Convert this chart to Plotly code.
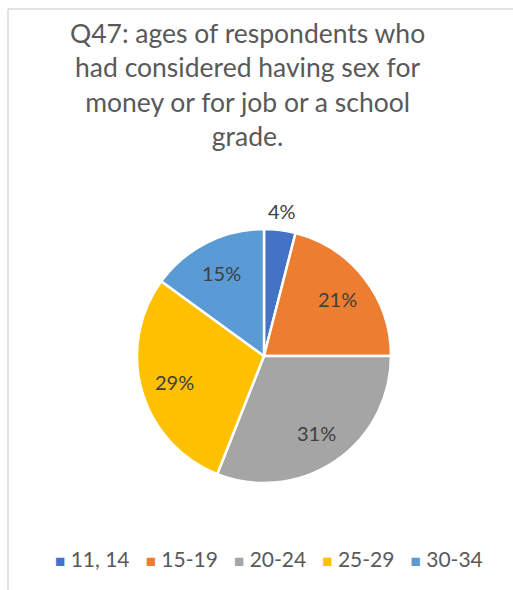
import math
import plotly.graph_objects as go

# Age groups and their shares (%)
age_groups = ["11, 14", "15-19", "20-24", "25-29", "30-34"]
shares = [4, 21, 31, 29, 15]
slice_colors = ["#4472C4", "#ED7D31", "#A5A5A5", "#FFC000", "#5B9BD5"]

W, H = 513, 590
cx, cy, r = 264, 356, 127
FONT = "Lato"

fig = go.Figure(
    go.Pie(
        labels=age_groups,
        values=shares,
        textinfo="none",
        sort=False,
        direction="clockwise",
        rotation=0,
        marker=dict(colors=slice_colors, line=dict(color="white", width=2.5)),
        domain=dict(
            x=[(cx - r) / W, (cx + r) / W],
            y=[1 - (cy + r) / H, 1 - (cy - r) / H],
        ),
        hoverinfo="label+percent",
        showlegend=False,
    )
)

# Percentage labels placed on each slice's bisector (clockwise from 12 o'clock)
annotations = []
total = sum(shares)
cum = 0
for v in shares:
    mid = (cum + v / 2) / total * 2 * math.pi
    cum += v
    pct = v / total
    dist = 1.15 * r if pct < 0.06 else 0.73 * r
    px = cx + dist * math.sin(mid)
    py = cy - dist * math.cos(mid)
    annotations.append(dict(
        text=f"{round(pct * 100)}%", x=px / W, y=1 - py / H,
        xref="paper", yref="paper", showarrow=False,
        xanchor="center", yanchor="middle",
        font=dict(family=FONT, size=20, color="#404040"),
    ))

# Title
annotations.append(dict(
    text="Q47: ages of respondents who<br>had considered having sex for<br>money or for job or a school<br>grade.",
    x=247 / W, y=1 - 15 / H, xref="paper", yref="paper",
    xanchor="center", yanchor="top", showarrow=False,
    font=dict(family=FONT, size=26.5, color="#595959"),
))

# Legend row
legend_parts = [
    f"<span style='color:{c};font-size:17px'>■</span> {g}"
    for g, c in zip(age_groups, slice_colors)
]
annotations.append(dict(
    text="   ".join(legend_parts),
    x=269 / W, y=1 - 558 / H, xref="paper", yref="paper",
    xanchor="center", yanchor="middle", showarrow=False,
    font=dict(family=FONT, size=21, color="#595959"),
))

fig.update_layout(
    width=W,
    height=H,
    margin=dict(l=0, r=0, t=0, b=0),
    paper_bgcolor="white",
    showlegend=False,
    annotations=annotations,
    shapes=[
        dict(type="line", xref="paper", yref="paper", x0=8 / W, x1=1, y0=1 - 9 / H, y1=1 - 9 / H,
             line=dict(color="#D9D9D9", width=1.5)),
        dict(type="line", xref="paper", yref="paper", x0=8 / W, x1=8 / W, y0=0, y1=1 - 9 / H,
             line=dict(color="#D9D9D9", width=1.5)),
    ],
)

fig.write_html("out.html")
